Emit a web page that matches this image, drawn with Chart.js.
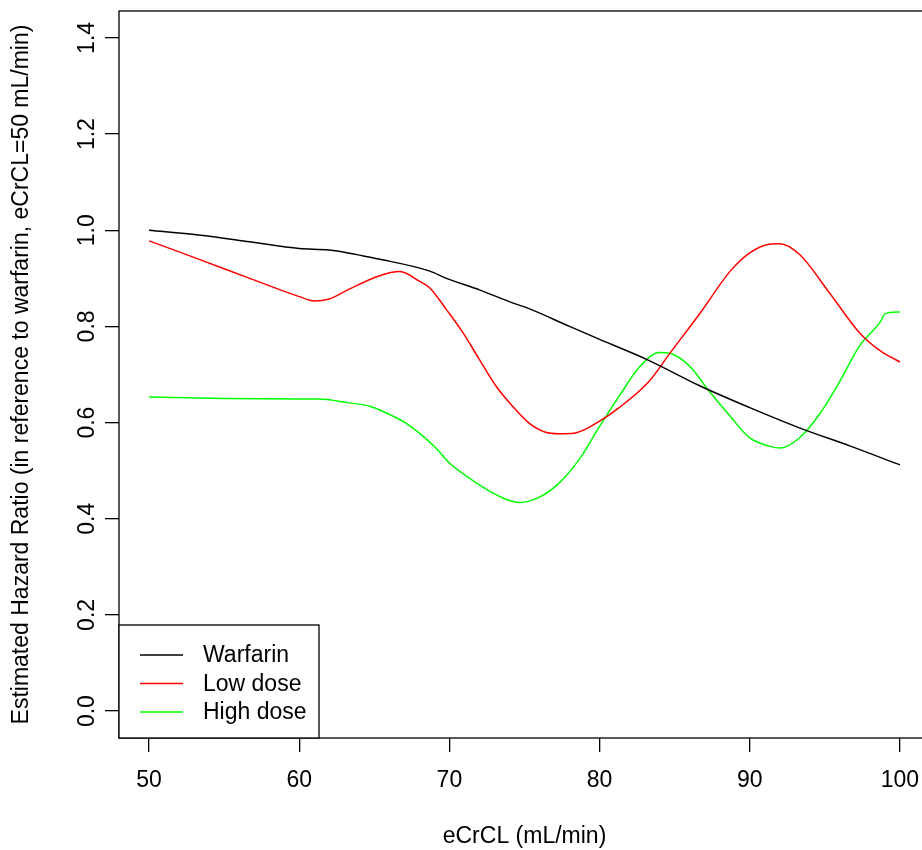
<!DOCTYPE html>
<html lang="en">

<head>
    <meta charset="UTF-8" />
    <title>Estimated Hazard Ratio by eCrCL</title>
    <script src="https://cdn.jsdelivr.net/npm/chart.js"></script>
    <style>
        body {
            margin: 0;
            overflow: hidden;
            background: #fff;
        }

        canvas {
            display: block;
        }
    </style>
</head>

<body>
    <canvas id="hrChart" width="940" height="850"></canvas>

    <script>
        // values
        const warfarinX = [50, 53.3, 56.7, 60, 62, 65.3, 68.7, 69.8, 72, 74.2, 75.3, 78, 80, 83.3, 86.7, 90, 93.3, 96.7, 100];
        const warfarinY = [1.0, 0.99, 0.976, 0.962, 0.959, 0.94, 0.915, 0.9, 0.876, 0.849, 0.837, 0.8, 0.773, 0.729, 0.676, 0.631, 0.589, 0.551, 0.512];

        const lowX = [50, 53.3, 56.7, 60, 61, 62, 63.3, 65.3, 66.7, 68, 68.7, 69.8, 70.9, 72, 73.1, 74.2, 75.3, 76.4, 77.3, 78.3, 80, 81.3, 83.3, 84.7, 86.7, 88.7, 90, 91.3, 92, 93.3, 95.3, 97.3, 98.7, 100];
        const lowY = [0.978, 0.94, 0.9, 0.862, 0.853, 0.857, 0.877, 0.905, 0.914, 0.894, 0.88, 0.835, 0.787, 0.731, 0.676, 0.634, 0.599, 0.58, 0.577, 0.578, 0.603, 0.631, 0.686, 0.745, 0.828, 0.915, 0.953, 0.971, 0.972, 0.95, 0.87, 0.787, 0.749, 0.726];

        const highX = [50, 55, 60, 61.3, 63.3, 64.7, 65.8, 67.1, 68, 69.1, 70, 71.3, 72.7, 74, 74.7, 76, 77.3, 78.7, 80, 81.3, 82.7, 84, 84.7, 86, 87.3, 88.7, 90, 91.3, 92, 93.3, 94.7, 96, 97.3, 98.7, 99, 100];
        const highY = [0.653, 0.65, 0.649, 0.649, 0.641, 0.634, 0.62, 0.599, 0.578, 0.547, 0.516, 0.485, 0.457, 0.438, 0.434, 0.445, 0.474, 0.526, 0.592, 0.655, 0.717, 0.746, 0.744, 0.717, 0.665, 0.613, 0.568, 0.551, 0.547, 0.568, 0.62, 0.686, 0.759, 0.81, 0.826, 0.83];

        const seriesNames = ['Warfarin', 'Low dose', 'High dose'];
        const xTicks = [50, 60, 70, 80, 90, 100];
        const yTicks = [0.0, 0.2, 0.4, 0.6, 0.8, 1.0, 1.2, 1.4];

        const FONT = '"Liberation Sans", Arial, sans-serif';
        const FSIZE = 23;

        function toPoints(xs, ys) {
            return xs.map((x, i) => ({ x: x, y: ys[i] }));
        }

        // box round the plot region, rotated y labels and the legend
        const rPlotPlugin = {
            id: 'rPlot',
            afterDraw(chart) {
                const ctx = chart.ctx;
                const a = chart.chartArea;
                const ys = chart.scales.y;

                ctx.save();
                ctx.strokeStyle = '#000';
                ctx.lineWidth = 1.3;
                ctx.strokeRect(a.left, a.top, a.right - a.left, a.bottom - a.top);

                // y tick labels, written upwards like R does
                ctx.fillStyle = '#000';
                ctx.font = FSIZE + 'px ' + FONT;
                ctx.textAlign = 'center';
                ctx.textBaseline = 'middle';
                ys.ticks.forEach(t => {
                    const py = ys.getPixelForValue(t.value);
                    ctx.save();
                    ctx.translate(a.left - 31, py);
                    ctx.rotate(-Math.PI / 2);
                    ctx.fillText(t.value.toFixed(1), 0, 0);
                    ctx.restore();
                });

                // legend, bottom left corner
                const bw = 200, bh = 113;
                const bx = a.left, by = a.bottom - bh;
                ctx.fillStyle = '#fff';
                ctx.fillRect(bx, by, bw, bh);
                ctx.strokeRect(bx, by, bw, bh);
                ctx.textAlign = 'left';
                chart.data.datasets.forEach((ds, i) => {
                    const ly = by + 30 + i * 28.5;
                    ctx.strokeStyle = ds.borderColor;
                    ctx.lineWidth = 1.5;
                    ctx.beginPath();
                    ctx.moveTo(bx + 21, ly);
                    ctx.lineTo(bx + 64, ly);
                    ctx.stroke();
                    ctx.fillStyle = '#000';
                    ctx.fillText(ds.label, bx + 84, ly + 1);
                });
                ctx.restore();
            }
        };

        const ctx = document.getElementById('hrChart').getContext('2d');
        new Chart(ctx, {
            type: 'line',
            data: {
                datasets: [
                    { label: seriesNames[0], data: toPoints(warfarinX, warfarinY), borderColor: '#000000' },
                    { label: seriesNames[1], data: toPoints(lowX, lowY), borderColor: '#ff0000' },
                    { label: seriesNames[2], data: toPoints(highX, highY), borderColor: '#00ff00' }
                ]
            },
            options: {
                responsive: false,
                animation: false,
                layout: { padding: { top: 11, right: 10, bottom: 0, left: 0 } },
                elements: {
                    line: { borderWidth: 1.5, cubicInterpolationMode: 'monotone', fill: false },
                    point: { radius: 0 }
                },
                plugins: {
                    legend: { display: false },
                    tooltip: { enabled: false }
                },
                scales: {
                    x: {
                        type: 'linear',
                        min: 48,
                        max: 102,
                        afterBuildTicks: s => { s.ticks = xTicks.map(v => ({ value: v })); },
                        afterFit: s => { s.height = 112; },
                        border: { display: false },
                        grid: { drawOnChartArea: false, drawTicks: true, tickLength: 14, color: '#000', lineWidth: 1.3 },
                        ticks: { color: '#000', padding: 15, maxRotation: 0, font: { family: FONT, size: FSIZE } },
                        title: {
                            display: true,
                            text: 'eCrCL (mL/min)',
                            color: '#000',
                            padding: { top: 0, bottom: 0 },
                            font: { family: FONT, size: FSIZE }
                        }
                    },
                    y: {
                        min: -0.056,
                        max: 1.456,
                        afterBuildTicks: s => { s.ticks = yTicks.map(v => ({ value: v })); },
                        afterFit: s => { s.width = 119; },
                        border: { display: false },
                        grid: { drawOnChartArea: false, drawTicks: true, tickLength: 14, color: '#000', lineWidth: 1.3 },
                        ticks: { display: false },
                        title: {
                            display: true,
                            text: 'Estimated Hazard Ratio (in reference to warfarin, eCrCL=50 mL/min)',
                            color: '#000',
                            padding: { top: 8, bottom: 0 },
                            font: { family: FONT, size: FSIZE }
                        }
                    }
                }
            },
            plugins: [rPlotPlugin]
        });
    </script>
</body>

</html>
